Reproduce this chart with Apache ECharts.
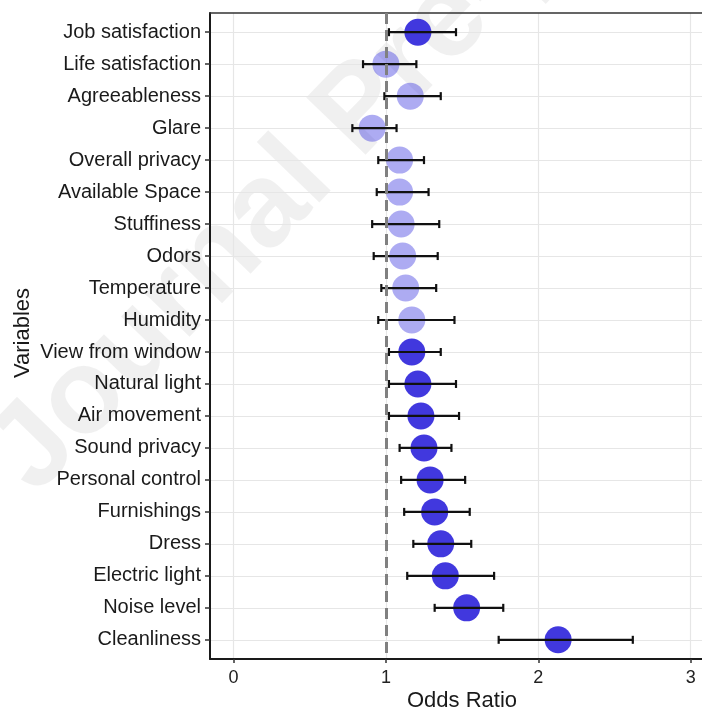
<!DOCTYPE html>
<html>
<head>
<meta charset="utf-8">
<script src="https://cdn.jsdelivr.net/npm/echarts@6/dist/echarts.min.js"></script>
<style>html,body{margin:0;padding:0;background:#fff}#c{width:702px;height:711px}</style>
</head>
<body>
<div id="c"></div>
<script>
const categories = ['Job satisfaction','Life satisfaction','Agreeableness','Glare','Overall privacy','Available Space','Stuffiness','Odors','Temperature','Humidity','View from window','Natural light','Air movement','Sound privacy','Personal control','Furnishings','Dress','Electric light','Noise level','Cleanliness'];
const oddsRatio = [1.21,1.00,1.16,0.91,1.09,1.09,1.10,1.11,1.13,1.17,1.17,1.21,1.23,1.25,1.29,1.32,1.36,1.39,1.53,2.13];
const ciLow =     [1.02,0.85,0.99,0.78,0.95,0.94,0.91,0.92,0.97,0.95,1.02,1.02,1.02,1.09,1.10,1.12,1.18,1.14,1.32,1.74];
const ciHigh =    [1.46,1.20,1.36,1.07,1.25,1.28,1.35,1.34,1.33,1.45,1.36,1.46,1.48,1.43,1.52,1.55,1.56,1.71,1.77,2.62];
const xTicks = [0,1,2,3];
const refValue = 1;

const idx = categories.map((c,i)=>i);
const sigData = [], nsData = [];
idx.forEach(i=>{
  const sig = ciLow[i] > refValue || ciHigh[i] < refValue;
  (sig ? sigData : nsData).push([oddsRatio[i], i]);
});
const errData = idx.map(i=>[i, ciLow[i], ciHigh[i]]);

const chart = echarts.init(document.getElementById('c'));
const font = 'Liberation Sans, Arial, sans-serif';
const xMin = -0.154, xMax = 3.074;
chart.setOption({
  animation:false,
  backgroundColor:'#fff',
  textStyle:{fontFamily:font},
  graphic:[
    {type:'text', z:-10, x:55, y:515, rotation:46*Math.PI/180,
     style:{text:'Journal Pre-proof', fontSize:120, fontWeight:'bold', fontFamily:font, fill:'rgba(0,0,0,0.06)', textVerticalAlign:'bottom'}},
    {type:'text', left:407, top:690, style:{text:'Odds Ratio', fontSize:22, fontFamily:font, fill:'#1a1a1a'}},
    {type:'text', x:23, y:333, rotation:Math.PI/2, style:{text:'Variables', fontSize:22, fontFamily:font, fill:'#1a1a1a', textAlign:'center', textVerticalAlign:'middle'}}
  ],
  grid:{left:210, right:0, top:13, bottom:52, show:false},
  xAxis:[{type:'value', min:xMin, max:xMax,
    axisLine:{show:true, onZero:false, lineStyle:{color:'#1a1a1a', width:2}},
    axisTick:{show:true, customValues:xTicks, length:4, lineStyle:{color:'#333', width:1.5}},
    axisLabel:{customValues:xTicks, fontSize:18, color:'#222', margin:10, fontFamily:font},
    splitLine:{show:true, lineStyle:{color:'#e6e6e6', width:1.2}}
  },{type:'value', position:'top', min:xMin, max:xMax,
    axisLine:{show:true, onZero:false, lineStyle:{color:'#333', width:1.5}},
    axisTick:{show:false}, axisLabel:{show:false}, splitLine:{show:false}
  }],
  yAxis:{type:'value', inverse:true, min:-0.6, max:19.6,
    axisLine:{show:true, onZero:false, lineStyle:{color:'#1a1a1a', width:2}},
    axisTick:{show:true, customValues:idx, length:5, lineStyle:{color:'#333', width:1.5}},
    axisLabel:{customValues:idx, formatter:v=>categories[Math.round(v)], fontSize:20, color:'#1a1a1a', margin:9, fontFamily:font},
    splitLine:{show:true, lineStyle:{color:'#e6e6e6', width:1.2}}
  },
  series:[
    {type:'scatter', name:'ref', data:[], z:1,
     markLine:{silent:true, symbol:'none', label:{show:false},
       lineStyle:{color:'#808080', width:3, type:[11,6]},
       data:[{xAxis:refValue}]}},
    {type:'scatter', name:'ns', data:nsData, symbolSize:27, z:2,
     itemStyle:{color:'rgb(60,55,225)', opacity:0.42}},
    {type:'scatter', name:'sig', data:sigData, symbolSize:27, z:2,
     itemStyle:{color:'rgb(55,45,220)', opacity:0.95}},
    {type:'custom', name:'ci', data:errData, z:3,
     encode:{x:[1,2], y:0},
     renderItem:function(params, api){
       const y = api.value(0);
       const lo = api.coord([api.value(1), y]);
       const hi = api.coord([api.value(2), y]);
       const st = {stroke:'#111', lineWidth:2.2};
       const h = 4;
       return {type:'group', children:[
         {type:'line', shape:{x1:lo[0], y1:lo[1], x2:hi[0], y2:hi[1]}, style:st},
         {type:'line', shape:{x1:lo[0], y1:lo[1]-h, x2:lo[0], y2:lo[1]+h}, style:st},
         {type:'line', shape:{x1:hi[0], y1:hi[1]-h, x2:hi[0], y2:hi[1]+h}, style:st}
       ]};
     }}
  ]
});
</script>
</body>
</html>
